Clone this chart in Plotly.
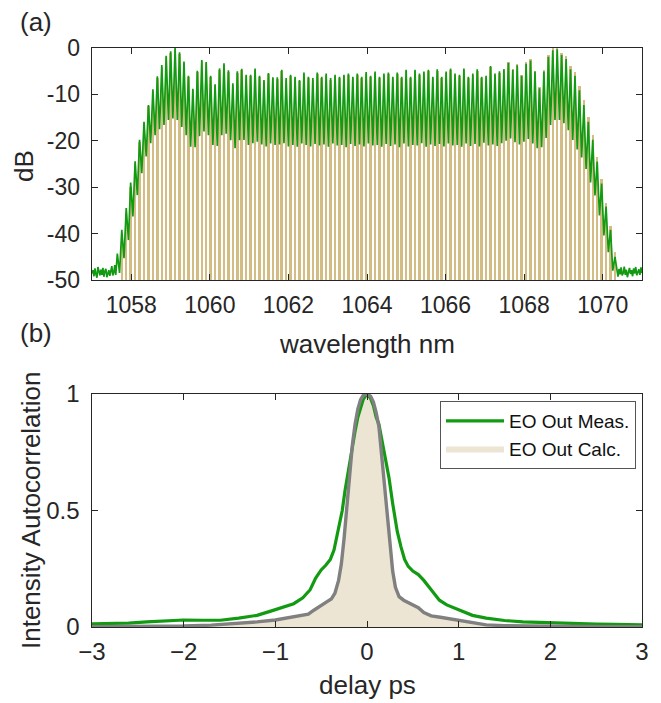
import numpy as np
import plotly.graph_objects as go
from plotly.subplots import make_subplots

# ---------------- (a) spectrum data ----------------
comb_start_nm = 1057.645
comb_spacing_nm = 0.1131

meas_peak_db = [
    -44.3, -39.2, -34.5, -29.0, -24.4, -19.8, -15.9, -12.3, -8.9, -6.1,
    -3.7, -1.7, -0.7, 0.0, -0.9, -2.9, -6.0, -8.8, -4.9, -2.6,
    -3.0, -6.0, -7.8, -4.4, -3.3, -4.8, -7.6, -5.0, -4.5, -5.8,
    -5.8, -4.4, -6.0, -6.9, -5.4, -6.3, -6.3,
    -4.7, -6.5, -5.8, -6.2, -6.9, -5.3, -6.2, -6.5, -5.3, -6.2,
    -5.5, -6.5, -5.8, -6.2, -5.8, -5.5, -6.2, -5.5, -6.2, -5.2,
    -6.0, -5.1, -6.2, -5.5, -5.3, -6.2, -5.3, -6.2, -4.7, -6.2,
    -4.7, -5.5, -5.1, -4.7, -6.2, -4.6, -6.2, -5.1, -4.4, -5.5,
    -5.8, -4.4, -6.2,
    -5.5, -4.6, -6.2, -6.0, -3.9, -5.5, -5.0, -4.6, -3.2, -4.7,
    -3.7, -6.0, -3.4, -2.7, -5.1, -8.7, -5.1, -1.9, -0.5, -0.3,
    -1.5, -2.4, -4.6, -6.0, -9.1, -12.3, -15.9, -19.8, -24.5, -29.2,
    -34.2, -39.2, -45.0,
]

meas_trough_db = [
    -48.5, -45.3, -41.4, -36.3, -31.7, -27.0, -23.4, -20.5, -18.8, -17.5,
    -16.6, -15.5, -15.2, -15.5, -17.0, -18.8, -21.3, -21.4, -19.0, -18.0,
    -18.8, -20.9, -21.1, -18.8, -18.5, -19.9, -21.6, -19.9, -19.8, -20.9,
    -20.5, -20.2, -20.8, -21.2, -20.6, -20.9,
    -20.8, -20.5, -21.2, -20.9, -21.3, -20.6, -20.9, -21.2, -20.7, -21.0,
    -20.8, -21.3, -20.6, -21.0, -20.9, -21.4, -20.7, -21.1, -20.8, -21.2,
    -20.6, -21.0, -20.9, -21.3, -20.7, -21.1, -20.8, -21.4, -20.6, -21.2,
    -20.9, -21.0, -20.5, -21.3, -20.8, -21.1, -20.7, -21.2, -20.6, -21.0,
    -20.9, -21.3, -20.6, -21.1, -20.7, -21.2, -20.4, -21.0, -20.8, -21.1,
    -20.5,
    -20.0, -19.5, -20.3, -20.8, -20.2, -19.6, -20.6, -21.6, -21.4, -19.4,
    -16.6, -15.5, -15.5, -16.2, -17.7, -19.8, -21.9, -23.6, -26.1, -29.0,
    -31.8, -36.1, -40.4, -44.0, -48.0,
]

calc_line_db = [
    -50.0, -41.0, -35.5, -30.0, -25.0, -20.3, -16.3, -12.6, -9.2, -6.4,
    -4.0, -2.0, -1.0, -0.3, -1.2, -3.2, -6.3, -9.0, -5.2, -2.9,
    -3.3, -6.3, -8.0, -4.7, -3.6, -5.1, -7.9, -5.3, -4.8, -6.1,
    -6.1, -4.7, -6.3, -7.2, -5.7, -6.5, -6.6,
    -5.0, -6.8, -6.1, -6.5, -7.2, -5.6, -6.5, -6.8, -5.6, -6.5,
    -5.8, -6.8, -6.1, -6.5, -6.1, -5.8, -6.5, -5.8, -6.5, -5.5,
    -6.3, -5.4, -6.5, -5.8, -5.6, -6.5, -5.6, -6.5, -5.0, -6.5,
    -5.0, -5.8, -5.4, -5.0, -6.5, -4.9, -6.5, -5.4, -4.7, -5.8,
    -6.1, -4.7, -6.5,
    -5.8, -4.9, -6.5, -6.3, -4.2, -5.8, -5.3, -4.5, -3.0, -4.6,
    -3.5, -5.9, -3.1, -2.4, -4.9, -8.4, -4.8, -1.5, -0.1, 0.0,
    -1.0, -1.8, -3.9, -5.2, -8.2, -11.3, -14.8, -18.8, -23.5, -28.3,
    -33.3, -38.4, -44.0,
]

noise_left_db = [
    -48.6, -47.9, -49.2, -47.5, -48.8, -49.5, -47.2, -48.3, -49.0, -47.8,
    -48.9, -47.4, -49.3, -48.1, -47.6, -49.4, -48.5, -47.9, -49.1, -48.2,
    -47.0, -49.0, -48.4, -46.8, -48.9,
]
noise_right_db = [
    -48.2, -49.3, -47.6, -48.8, -47.3, -49.0, -48.5, -47.1, -48.9, -47.8,
    -49.4, -48.0, -47.4, -48.7, -47.9, -49.2, -47.5, -48.6, -47.2, -49.0,
    -48.3, -47.7, -48.9, -47.3, -48.5,
]

wl_ticks = [1058, 1060, 1062, 1064, 1066, 1068, 1070]
db_ticks = [-50, -40, -30, -20, -10, 0]

# ---------------- (b) autocorrelation data ----------------
delay_meas_ps = [
    -3.0, -2.8, -2.6, -2.4, -2.2, -2.0, -1.8, -1.6, -1.4, -1.2,
    -1.05, -0.9, -0.8, -0.7, -0.62, -0.56, -0.5, -0.45, -0.4, -0.36,
    -0.31, -0.27, -0.24, -0.2, -0.17, -0.13, -0.1, -0.07, -0.04, 0.0,
    0.04, 0.07, 0.1, 0.13, 0.16, 0.2, 0.24, 0.28, 0.33, 0.37,
    0.41, 0.45, 0.5, 0.56, 0.62, 0.7, 0.79, 0.87, 0.95, 1.05,
    1.15, 1.3, 1.5, 1.7, 1.9, 2.1, 2.3, 2.5, 2.7, 3.0,
]
ac_meas = [
    0.014, 0.015, 0.017, 0.022, 0.027, 0.030, 0.029, 0.029, 0.038, 0.05,
    0.068, 0.088, 0.10, 0.125, 0.16, 0.21, 0.245, 0.265, 0.29, 0.33,
    0.42, 0.5, 0.585, 0.68, 0.756, 0.84, 0.9, 0.945, 0.978, 1.0,
    0.98, 0.95, 0.9, 0.87, 0.81, 0.73, 0.64, 0.53, 0.41, 0.345,
    0.29, 0.26, 0.24, 0.225, 0.2, 0.16, 0.115, 0.095, 0.082, 0.065,
    0.05, 0.038, 0.028, 0.022, 0.019, 0.016, 0.013, 0.012, 0.011, 0.009,
]
delay_calc_ps = [
    -3.0, -2.5, -2.0, -1.7, -1.45, -1.2, -1.0, -0.85, -0.72, -0.64,
    -0.58, -0.5, -0.44, -0.39, -0.35, -0.31, -0.28, -0.25, -0.22, -0.19,
    -0.16, -0.13, -0.1, -0.07, -0.04, 0.0, 0.04, 0.07, 0.1, 0.13,
    0.16, 0.19, 0.22, 0.25, 0.28, 0.31, 0.35, 0.4, 0.45, 0.5,
    0.56, 0.62, 0.7, 0.8, 0.9, 1.0, 1.15, 1.3, 1.5, 1.8,
    2.2, 2.6, 3.0,
]
ac_calc = [
    0.001, 0.002, 0.004, 0.008, 0.014, 0.022, 0.03, 0.04, 0.046, 0.055,
    0.072, 0.095, 0.108, 0.12, 0.145, 0.2, 0.27, 0.38, 0.52, 0.65,
    0.78, 0.87, 0.935, 0.975, 0.995, 1.0, 0.99, 0.965, 0.92, 0.86,
    0.73, 0.6, 0.47, 0.35, 0.24, 0.17, 0.13, 0.115, 0.105, 0.095,
    0.083, 0.062, 0.048, 0.042, 0.036, 0.03, 0.018, 0.009, 0.006, 0.004,
    0.002, 0.001, 0.001,
]
delay_ticks = [-3, -2, -1, 0, 1, 2, 3]
ac_ticks = [0, 0.5, 1]

# ---------------- build ----------------
GREEN = "#129b12"
TAN_BAR = "#d4bd84"
TAN_FILL = "#ede5d3"
GRAY = "#808080"
AXC = "#262626"
FONT = "Liberation Sans, Arial, Helvetica, sans-serif"
PAD = "\u00a0"

n_lines = len(meas_peak_db)
line_wl = comb_start_nm + comb_spacing_nm * np.arange(n_lines)
trough_wl = line_wl[:-1] + comb_spacing_nm / 2

left_wl = np.linspace(1057.0, line_wl[0] - 0.04, len(noise_left_db))
right_wl = np.linspace(line_wl[-1] + 0.05, 1071.0, len(noise_right_db))

meas_x = list(left_wl)
meas_y = list(noise_left_db)
for i in range(n_lines):
    meas_x.append(line_wl[i])
    meas_y.append(meas_peak_db[i])
    if i < len(meas_trough_db):
        meas_x.append(trough_wl[i])
        meas_y.append(meas_trough_db[i])
meas_x += list(right_wl)
meas_y += list(noise_right_db)

fig = make_subplots(rows=2, cols=1, vertical_spacing=0.0)

fig.add_trace(go.Bar(
    x=line_wl, y=[v + 50 for v in calc_line_db], base=-50,
    width=0.064, marker=dict(color=TAN_BAR, line=dict(width=0)),
    showlegend=False, hoverinfo="skip"), row=1, col=1)
fig.add_trace(go.Scatter(
    x=meas_x, y=meas_y, mode="lines", line=dict(color=GREEN, width=1.7),
    showlegend=False), row=1, col=1)

fig.add_trace(go.Scatter(
    x=delay_calc_ps, y=ac_calc, mode="lines", fill="tozeroy",
    fillcolor=TAN_FILL, line=dict(width=0, color=TAN_FILL),
    name="EO Out Calc.", legendrank=2), row=2, col=1)
fig.add_trace(go.Scatter(
    x=delay_meas_ps, y=ac_meas, mode="lines",
    line=dict(color=GREEN, width=3.2), name="EO Out Meas.",
    legendrank=1), row=2, col=1)
fig.add_trace(go.Scatter(
    x=delay_calc_ps, y=ac_calc, mode="lines",
    line=dict(color=GRAY, width=3.4), showlegend=False), row=2, col=1)

axis_common = dict(showline=True, linecolor=AXC, linewidth=1, mirror="ticks",
                   ticks="inside", ticklen=6, tickcolor=AXC, showgrid=False,
                   zeroline=False, automargin=False)
tick_font = dict(family=FONT, size=23, color=AXC)
tick_font_b = dict(family=FONT, size=24, color=AXC)
title_font = dict(family=FONT, size=26, color=AXC)

fig.update_xaxes(range=[1057, 1071], tickvals=wl_ticks, tickfont=tick_font,
                 ticklabelstandoff=4,
                 domain=[0, 1], **axis_common, row=1, col=1)
fig.update_yaxes(range=[-50, 0], tickvals=db_ticks,
                 ticktext=[f"{v}{PAD}" for v in db_ticks], tickfont=tick_font,
                 domain=[0.5717, 0.9539], **axis_common, row=1, col=1)
fig.update_xaxes(range=[-3, 3], tickvals=delay_ticks, tickfont=tick_font_b,
                 ticklabelstandoff=3,
                 domain=[0, 1], **axis_common, row=2, col=1)
fig.update_yaxes(range=[0, 1], tickvals=ac_ticks,
                 ticktext=[f"{v:g}{PAD}" for v in ac_ticks], tickfont=tick_font_b,
                 domain=[0, 0.3839], **axis_common, row=2, col=1)

# plot area: x 92..642, y 48..627 (reference pixels) -> paper coords
def px(xp):
    return (xp - 92) / 550.0

def py(yp):
    return (627 - yp) / 607.0

labels = [
    ("(a)", 36, 22, 0, 26),
    ("(b)", 36, 333, 0, 26),
    ("dB", 24, 166, -90, 26),
    ("wavelength nm", 367, 344, 0, 26),
    ("Intensity Autocorrelation", 31, 510, -90, 26),
    ("delay ps", 367, 685, 0, 26),
]
for text, xp, yp, ang, sz in labels:
    fig.add_annotation(text=text, xref="paper", yref="paper", x=px(xp), y=py(yp),
                       xanchor="center", yanchor="middle", textangle=ang,
                       showarrow=False, font=dict(family=FONT, size=sz, color=AXC))

fig.update_layout(
    width=653, height=695, template="simple_white",
    margin=dict(l=84, r=19, t=12, b=76, autoexpand=False),
    paper_bgcolor="white", plot_bgcolor="white", bargap=0,
    legend=dict(x=px(636), y=py(401), xanchor="right", yanchor="top",
                bordercolor="#555", borderwidth=1, bgcolor="white",
                font=dict(family=FONT, size=19, color="#111"),
                tracegroupgap=0, itemwidth=58),
)

fig.write_html("out.html")
